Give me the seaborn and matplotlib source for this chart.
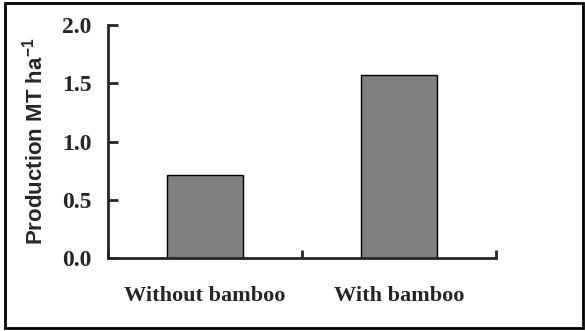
import matplotlib
matplotlib.use('Agg')
import matplotlib.pyplot as plt
from matplotlib.patches import Rectangle
import seaborn as sns
import pandas as pd

# Datos
categorias = ["Without bamboo", "With bamboo"]
produccion = [0.71, 1.57]
ticks_y = [0.0, 0.5, 1.0, 1.5, 2.0]

sns.set_style("ticks")
plt.rcParams['font.family'] = ['Liberation Serif', 'DejaVu Serif']
plt.rcParams['mathtext.fontset'] = 'custom'
plt.rcParams['mathtext.bf'] = 'Liberation Sans:bold'
plt.rcParams['mathtext.rm'] = 'Liberation Sans:bold'

datos = pd.DataFrame({"tratamiento": categorias, "produccion": produccion})

fig = plt.figure(figsize=(5.85, 3.31), dpi=100)
ax = fig.add_axes([108/585, 1 - 258/331, (496 - 108)/585, (258 - 25)/331])

sns.barplot(data=datos, x="tratamiento", y="produccion", color="#808080",
            saturation=1, edgecolor="black", linewidth=1, width=0.39, ax=ax)

ax.set_xlim(-0.5, 1.5)
ax.set_ylim(0, 2.0)
ax.set_yticks(ticks_y)
ax.set_yticklabels([f"{v:.1f}" for v in ticks_y], fontsize=17, fontweight='bold')
ax.set_xticks(range(len(categorias)))
ax.set_xticklabels(categorias, fontsize=16, fontweight='bold')
ax.tick_params(axis='x', length=0, pad=20)
ax.tick_params(axis='y', direction='in', length=7, width=2, pad=12)
ax.set_xticks([-0.5, 0.5, 1.5], minor=True)
ax.tick_params(axis='x', which='minor', direction='in', length=6, width=2)

ax.set_xlabel("")
ax.set_ylabel("Production MT ha$^{\\mathrm{-1}}$", fontsize=16, fontweight='bold',
              family='Liberation Sans', labelpad=10)

sns.despine(ax=ax)
for lado in ['left', 'bottom']:
    ax.spines[lado].set_linewidth(2)

# Marco exterior
fig.patches.append(Rectangle((5/585, 3/331), 578/585, 325/331, transform=fig.transFigure,
                             fill=False, edgecolor='black', linewidth=2))

plt.savefig("out.png", dpi=100)
